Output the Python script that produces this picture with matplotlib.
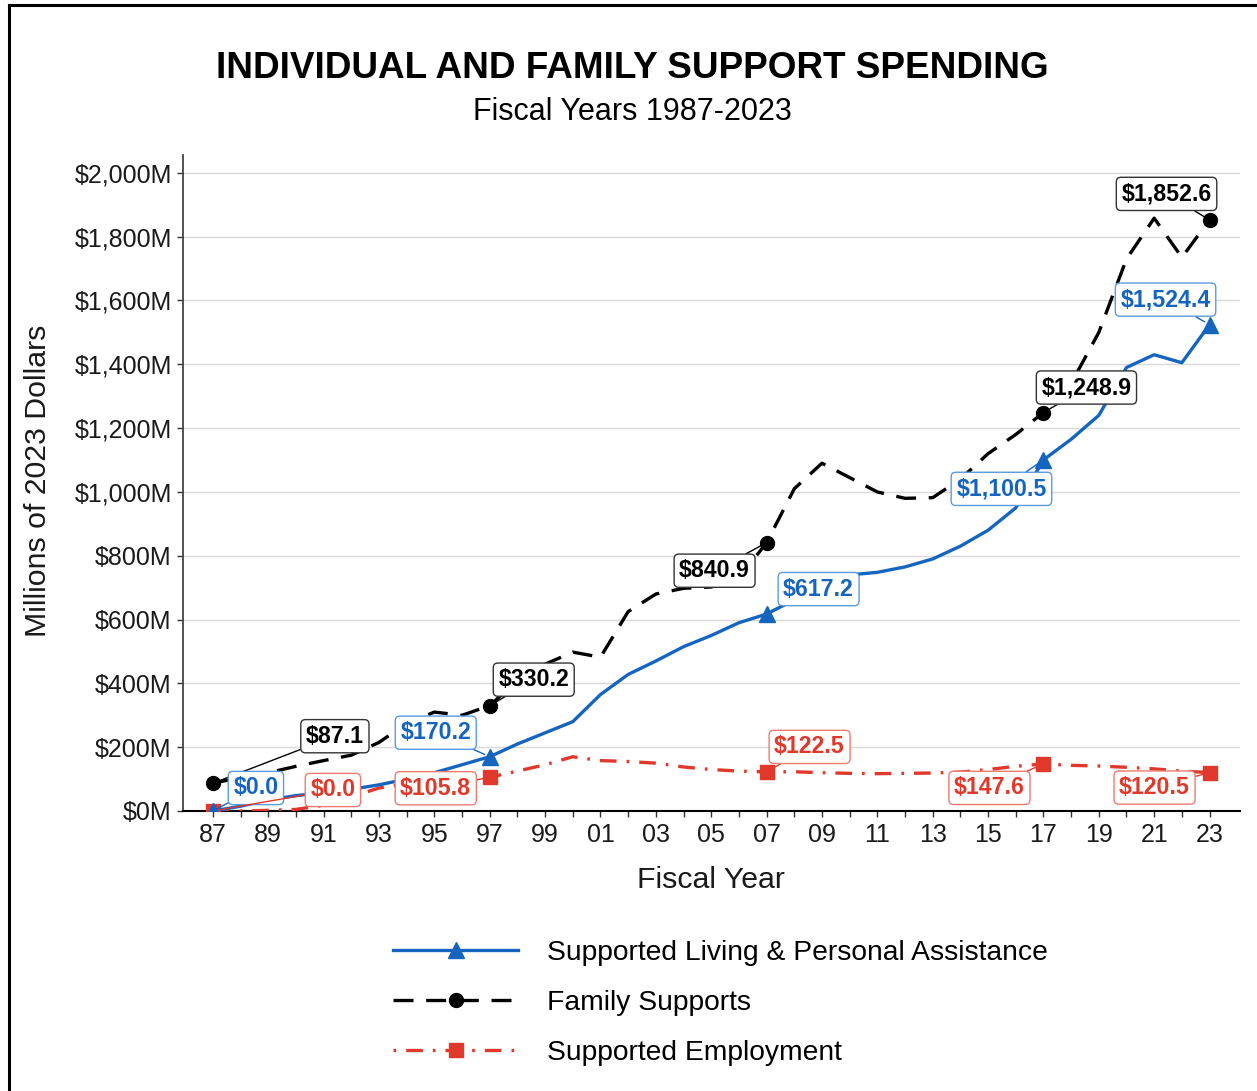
import matplotlib
matplotlib.use('Agg')
import matplotlib.pyplot as plt
from matplotlib.lines import Line2D

plt.rcParams['font.family'] = ['Liberation Sans', 'DejaVu Sans']

# ---------------- data ----------------
years = list(range(1987, 2024))
supported_living = [0, 15, 35, 48, 58, 68, 82, 100, 120, 145,
                    170.2, 210, 245, 280, 365, 428, 470, 515, 550, 590,
                    617.2, 662, 722, 740, 748, 765, 790, 830, 880, 950,
                    1100.5, 1165, 1240, 1390, 1430, 1405, 1524.4]
family_supports = [87.1, 105, 120, 140, 158, 175, 215, 275, 310, 300,
                   330.2, 410, 460, 498, 482, 625, 680, 698, 702, 730,
                   840.9, 1010, 1090, 1045, 1000, 980, 982, 1040, 1120, 1180,
                   1248.9, 1340, 1500, 1730, 1858, 1735, 1852.6]
supported_employment = [0, 0, 2, 5, 18, 45, 72, 85, 95, 100,
                        105.8, 125, 145, 170, 158, 155, 150, 138, 130, 125,
                        122.5, 123, 120, 118, 117, 118, 119, 122, 130, 140,
                        147.6, 143, 141, 137, 132, 125, 120.5]

label_years = [1987, 1997, 2007, 2017, 2023]
sl_labels = ['$0.0', '$170.2', '$617.2', '$1,100.5', '$1,524.4']
fs_labels = ['$87.1', '$330.2', '$840.9', '$1,248.9', '$1,852.6']
se_labels = ['$0.0', '$105.8', '$122.5', '$147.6', '$120.5']

series_names = ['Supported Living & Personal Assistance', 'Family Supports',
                'Supported Employment']

yticks = [0, 200, 400, 600, 800, 1000, 1200, 1400, 1600, 1800, 2000]
ytick_labels = ['$0M', '$200M', '$400M', '$600M', '$800M', '$1,000M',
                '$1,200M', '$1,400M', '$1,600M', '$1,800M', '$2,000M']
xtick_years = list(range(1987, 2024, 2))
xtick_labels = ['87', '89', '91', '93', '95', '97', '99', '01', '03', '05',
                '07', '09', '11', '13', '15', '17', '19', '21', '23']
minor_years = list(range(1988, 2024, 2))

# ---------------- style ----------------
W, H = 1257, 1091
BLUE = '#1565c0'
BLACK = '#000000'
RED = '#e0392b'
BLUE_EDGE = '#5a9be0'
RED_EDGE = '#ee7b70'
BLACK_EDGE = '#333333'
LW = 2.4

# label offsets in pixels (dx, dy) from the marked point
sl_offsets = [(43, 23), (-54, 24), (52, 25), (-42, -29), (-44, 25)]
fs_offsets = [(122, 47), (44, 26), (-52, -28), (43, 25), (-43, 26)]
se_offsets = [(120, 21), (-54, -11), (43, 25), (-54, -24), (-55, -15)]

fig = plt.figure(figsize=(W / 100, H / 100), dpi=100)
ax = fig.add_axes([183 / W, 1 - 811 / H, (1240 - 183) / W, (811 - 155) / H])

mark_idx = [years.index(y) for y in label_years]

ax.plot(years, family_supports, color=BLACK, lw=LW, ls=(0, (6, 3.8)),
        marker='o', markersize=10, markevery=mark_idx, zorder=3)
ax.plot(years, supported_employment, color=RED, lw=LW, ls=(0, (5, 3, 0.8, 3)),
        marker='s', markersize=9.5, markevery=mark_idx, zorder=3)
ax.plot(years, supported_living, color=BLUE, lw=LW, ls='-',
        marker='^', markersize=12, markevery=mark_idx, zorder=4)

ax.set_xlim(1985.92, 2024.1)
ax.set_ylim(0, 2056)
ax.set_yticks(yticks)
ax.set_yticklabels(ytick_labels)
ax.set_xticks(xtick_years)
ax.set_xticklabels(xtick_labels)
ax.set_xticks(minor_years, minor=True)

ax.tick_params(axis='y', length=4.5, width=1, color='#333333', pad=3.6,
               labelsize=18, labelcolor='#1a1a1a')
ax.tick_params(axis='x', which='both', length=4, width=1, color='#333333')
ax.tick_params(axis='x', which='major', pad=4.5, labelsize=18, labelcolor='#1a1a1a')

for s in ['top', 'right']:
    ax.spines[s].set_visible(False)
ax.spines['left'].set_color('#444444')
ax.spines['left'].set_linewidth(1.3)
ax.spines['bottom'].set_color('#000000')
ax.spines['bottom'].set_linewidth(1.5)

ax.yaxis.grid(True, color='#d9d9d9', lw=1.0)
ax.set_axisbelow(True)


def add_labels(vals, texts, offsets, tcolor, ecolor):
    for yr, txt, (dx, dy) in zip(label_years, texts, offsets):
        v = vals[years.index(yr)]
        ax.annotate(txt, xy=(yr, v), xytext=(dx, dy), textcoords='offset pixels',
                    ha='center', va='center', fontsize=16.7, fontweight='bold',
                    color=tcolor, zorder=6,
                    bbox=dict(boxstyle='round,pad=0.22,rounding_size=0.2',
                              fc='white', ec=ecolor, lw=1.0),
                    arrowprops=dict(arrowstyle='-', color=tcolor, lw=1.0,
                                    shrinkA=0, shrinkB=4))


add_labels(family_supports, fs_labels, fs_offsets, BLACK, BLACK_EDGE)
add_labels(supported_living, sl_labels, sl_offsets, BLUE, BLUE_EDGE)
add_labels(supported_employment, se_labels, se_offsets, RED, RED_EDGE)

# titles
fig.text(632 / W, 1 - 68 / H, 'INDIVIDUAL AND FAMILY SUPPORT SPENDING',
         ha='center', va='center', fontsize=26.6, fontweight='bold')
fig.text(632 / W, 1 - 112 / H, 'Fiscal Years 1987-2023',
         ha='center', va='center', fontsize=22)
fig.text(38 / W, 1 - 481 / H, 'Millions of 2023 Dollars', rotation=90,
         ha='center', va='center', fontsize=21.8, color='#1a1a1a')
fig.text(711 / W, 1 - 880 / H, 'Fiscal Year', ha='center', va='center',
         fontsize=21.8, color='#1a1a1a')

# legend
handles = [
    Line2D([], [], color=BLUE, lw=LW, ls='-', marker='^', markersize=12),
    Line2D([], [], color=BLACK, lw=LW, ls=(0, (6, 3.8)), marker='o', markersize=10),
    Line2D([], [], color=RED, lw=LW, ls=(0, (0.8, 3, 5, 3)), marker='s', markersize=9.5),
]
fig.legend(handles, series_names, loc='center left',
           bbox_to_anchor=(393 / W, 1 - 1003 / H), frameon=False,
           handlelength=4.45, handletextpad=1.0, labelspacing=0.84,
           borderpad=0, borderaxespad=0, fontsize=20.3, numpoints=1)

# outer frame (left and top edges)
fig.add_artist(Line2D([9 / W, 9 / W], [0, 1 - 5 / H], color='black', lw=2.2,
                      transform=fig.transFigure))
fig.add_artist(Line2D([9 / W, 1], [1 - 5 / H, 1 - 5 / H], color='black', lw=2.2,
                      transform=fig.transFigure))

fig.savefig('out.png', dpi=100)
